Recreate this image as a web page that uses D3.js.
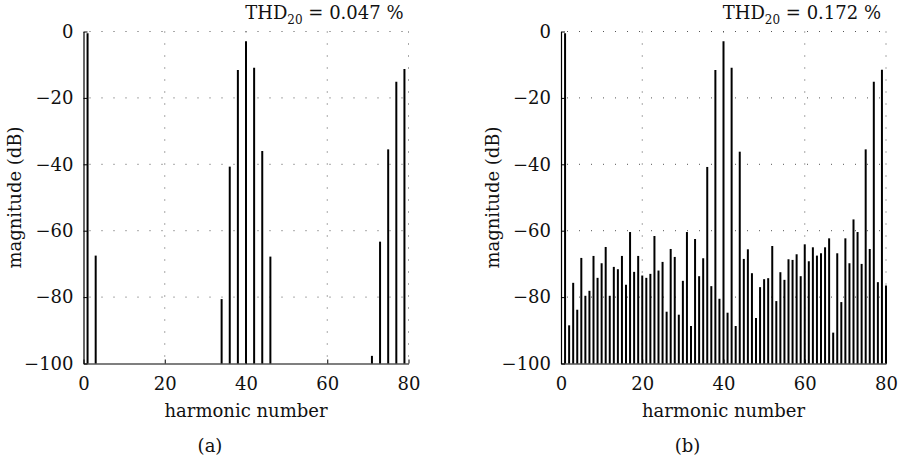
<!DOCTYPE html>
<html>
<head>
<meta charset="utf-8">
<script src="https://cdn.jsdelivr.net/npm/d3@7"></script>
<style>
  body { margin: 0; background: #fff; }
  text { font-family: "DejaVu Serif", "Liberation Serif", serif; fill: #111; }
</style>
</head>
<body>
<div id="chart"></div>
<script>
// harmonic spectrum values (dB)
const harm_a = [1, 3, 34, 36, 38, 40, 42, 44, 46, 71, 73, 75, 77, 79];
const mag_a = [-0.5, -67.5, -80.6, -40.7, -11.6, -2.9, -10.9, -36.0, -67.8, -97.7, -63.3, -35.5, -15.1, -11.3];

// panel (b) has a bar at every harmonic 1..80
const harm_b = d3.range(1, 81);
const mag_b = [
  -0.5, -88.5, -75.7, -83.8, -68.2, -79.6, -78.1, -67.6, -74.2, -69.8,
  -64.9, -79.6, -70.9, -71.6, -67.6, -76.3, -60.4, -72.4, -67.6, -73.5,
  -74.2, -73.0, -61.6, -72.0, -69.4, -84.4, -65.5, -67.9, -85.3, -75.1,
  -60.4, -88.7, -62.5, -73.7, -68.3, -40.8, -76.7, -11.6, -80.5, -2.9,
  -84.7, -10.9, -88.7, -36.2, -68.5, -65.6, -72.8, -86.3, -77.0, -74.6,
  -74.3, -64.6, -81.2, -72.5, -74.8, -68.6, -68.8, -67.1, -73.7, -64.1,
  -69.2, -65.0, -67.5, -66.8, -65.0, -62.3, -90.7, -66.8, -81.5, -62.3,
  -69.8, -56.6, -60.4, -70.0, -35.5, -65.5, -15.1, -75.5, -11.5, -76.5
];

const x_ticks = [0, 20, 40, 60, 80];
const y_ticks = [0, -20, -40, -60, -80, -100];
const thd_a = '0.047';
const thd_b = '0.172';

//******** sizes
let width = 904;
let height = 464;
let plot_left = 83.5;
let plot_w = 325;
let plot_top = 31.5;
let plot_bottom = 363.5;
let panel_dx = 477.5;
//********

let svg = d3.select('#chart').append('svg')
  .attr('width', width)
  .attr('height', height);

let y = d3.scaleLinear().domain([-100, 0]).range([plot_bottom, plot_top]);

function draw_panel(offset, harm, mag, thd, tag) {
  let x = d3.scaleLinear().domain([0, 80]).range([plot_left + offset, plot_left + offset + plot_w]);
  let g = svg.append('g');

  // dotted grid
  g.selectAll('.hgrid')
    .data(y_ticks.filter(d => d > -100))
    .enter().append('line')
    .attr('x1', x(0) + 6).attr('x2', x(80))
    .attr('y1', d => y(d)).attr('y2', d => y(d))
    .attr('stroke', '#555').attr('stroke-width', 1)
    .attr('stroke-dasharray', '1,11');
  g.selectAll('.vgrid')
    .data(x_ticks.filter(d => d > 0))
    .enter().append('line')
    .attr('x1', d => x(d)).attr('x2', d => x(d))
    .attr('y1', y(0)).attr('y2', y(-100))
    .attr('stroke', '#555').attr('stroke-width', 1)
    .attr('stroke-dasharray', '1,11');

  // bars
  g.selectAll('.bar')
    .data(harm.map((h, i) => ({ h: h, v: mag[i] })))
    .enter().append('line')
    .attr('x1', d => x(d.h)).attr('x2', d => x(d.h))
    .attr('y1', y(-100)).attr('y2', d => y(d.v))
    .attr('stroke', '#000').attr('stroke-width', 2);

  // axes, ticks pointing inward
  let xa = g.append('g')
    .attr('transform', 'translate(0,' + y(-100) + ')')
    .call(d3.axisBottom(x).tickValues(x_ticks).tickSize(-4).tickPadding(10).tickSizeOuter(0));
  let ya = g.append('g')
    .attr('transform', 'translate(' + x(0) + ',0)')
    .call(d3.axisLeft(y).tickValues(y_ticks).tickSize(-4).tickPadding(10).tickSizeOuter(0)
      .tickFormat(d => d < 0 ? '\u2212' + Math.abs(d) : d));
  [xa, ya].forEach(a => {
    a.select('.domain').attr('stroke', '#000').attr('stroke-width', 1.2);
    a.selectAll('.tick line').attr('stroke', '#000');
    a.selectAll('.tick text')
      .style('font-family', '"DejaVu Serif", serif')
      .style('font-size', '18px')
      .attr('fill', '#111');
  });
  xa.selectAll('.tick text').attr('dy', '0.9em');

  // labels
  g.append('text')
    .attr('x', x(40)).attr('y', 417)
    .attr('text-anchor', 'middle')
    .style('font-size', '18px')
    .text('harmonic number');
  g.append('text')
    .attr('transform', 'translate(' + (offset + 21) + ',' + ((plot_top + plot_bottom) / 2) + ') rotate(-90)')
    .attr('text-anchor', 'middle')
    .style('font-size', '18px')
    .text('magnitude (dB)');
  g.append('text')
    .attr('x', 210 + offset).attr('y', 452)
    .attr('text-anchor', 'middle')
    .style('font-size', '18px')
    .text(tag);

  let t = g.append('text')
    .attr('x', x(80) - 5).attr('y', 19)
    .attr('text-anchor', 'end')
    .style('font-size', '18px');
  t.append('tspan').text('THD');
  t.append('tspan').attr('dy', 5).style('font-size', '12px').text('20');
  t.append('tspan').attr('dy', -5).text(' = ' + thd + ' %');
}

draw_panel(0, harm_a, mag_a, thd_a, '(a)');
draw_panel(panel_dx, harm_b, mag_b, thd_b, '(b)');
</script>
</body>
</html>
